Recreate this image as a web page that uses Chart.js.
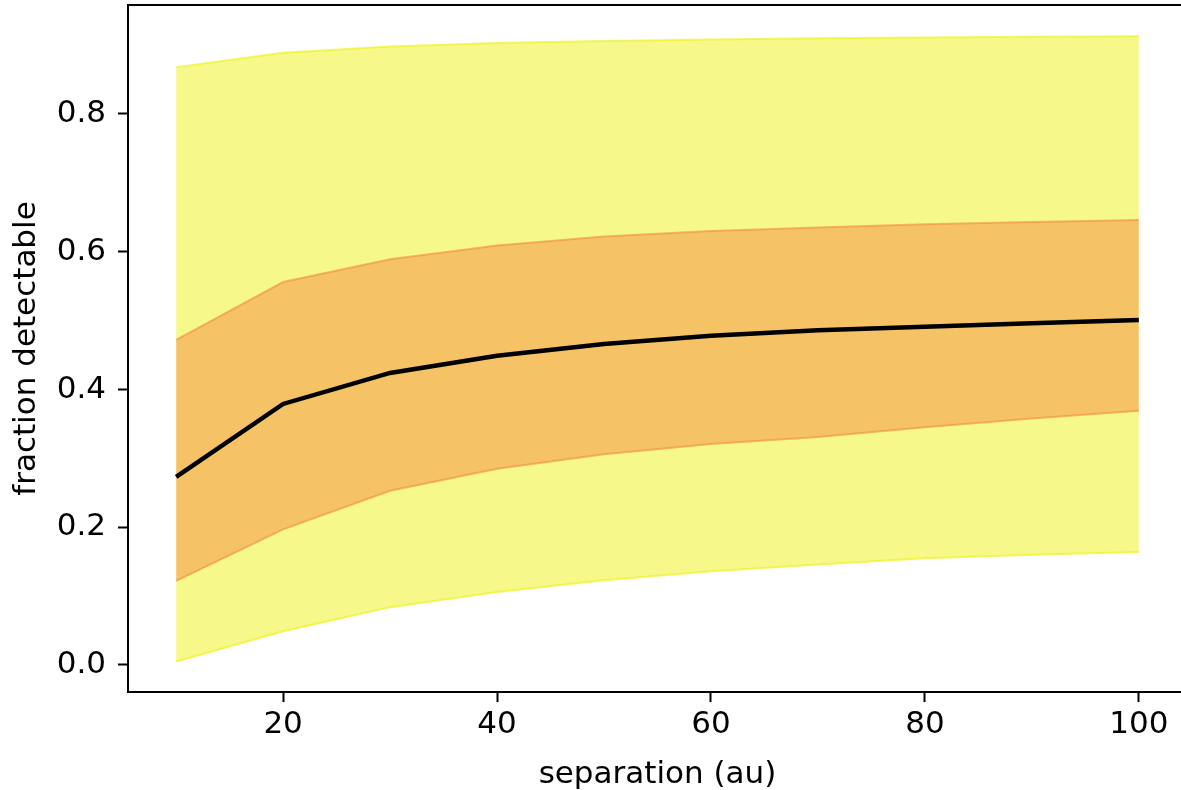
<!DOCTYPE html>
<html>
<head>
<meta charset="utf-8">
<script src="https://cdn.jsdelivr.net/npm/chart.js@4/dist/chart.umd.min.js"></script>
<style>
    html, body { margin: 0; padding: 0; background: #fff; overflow: hidden; }
    #wrap { width: 1192px; height: 790px; }
</style>
</head>
<body>
<div id="wrap"><canvas id="chart" width="1192" height="790"></canvas></div>
<script>
// separation (au)
const separation = [10, 20, 30, 40, 50, 60, 70, 80, 90, 100];
// fraction detectable
const median     = [0.273, 0.379, 0.424, 0.449, 0.466, 0.478, 0.486, 0.491, 0.496, 0.501];
const innerLow   = [0.122, 0.197, 0.253, 0.285, 0.306, 0.321, 0.331, 0.345, 0.358, 0.369];
const innerHigh  = [0.472, 0.556, 0.589, 0.609, 0.622, 0.630, 0.635, 0.640, 0.643, 0.646];
const outerLow   = [0.005, 0.049, 0.084, 0.106, 0.123, 0.136, 0.146, 0.155, 0.160, 0.164];
const outerHigh  = [0.868, 0.889, 0.898, 0.903, 0.906, 0.908, 0.910, 0.911, 0.912, 0.913];

const xTicks = [20, 40, 60, 80, 100];
const yTicks = [0.0, 0.2, 0.4, 0.6, 0.8];

const yellow = 'rgba(238, 242, 22, 0.5)';
const yellowEdge = 'rgba(238, 242, 22, 0.65)';
const orange = 'rgba(246, 144, 66, 0.5)';
const orangeEdge = 'rgba(242, 140, 60, 0.6)';

function pts(arr) {
    return separation.map((x, i) => ({ x: x, y: arr[i] }));
}

// box around the plot area (top / right spines)
const frame = {
    id: 'frame',
    afterDraw(chart) {
        const a = chart.chartArea;
        const ctx = chart.ctx;
        ctx.save();
        ctx.strokeStyle = '#000';
        ctx.lineWidth = 2;
        ctx.strokeRect(a.left, a.top, a.right - a.left, a.bottom - a.top);
        ctx.restore();
    }
};

Chart.defaults.font.family = '"DejaVu Sans", sans-serif';
Chart.defaults.font.size = 31;
Chart.defaults.color = '#000';

new Chart(document.getElementById('chart'), {
    type: 'line',
    data: {
        datasets: [
            { data: pts(median), borderColor: '#000', borderWidth: 4.5, fill: false, order: 0 },
            { data: pts(innerLow), borderColor: orangeEdge, borderWidth: 2, fill: false, order: 1 },
            { data: pts(innerHigh), borderColor: orangeEdge, backgroundColor: orange, borderWidth: 2, fill: '-1', order: 1 },
            { data: pts(outerLow), borderColor: yellowEdge, borderWidth: 2, fill: false, order: 2 },
            { data: pts(outerHigh), borderColor: yellowEdge, backgroundColor: yellow, borderWidth: 2, fill: '-1', order: 2 }
        ]
    },
    options: {
        responsive: false,
        animation: false,
        devicePixelRatio: 1,
        elements: { point: { radius: 0 }, line: { tension: 0 } },
        layout: { padding: { left: 0, top: 5, right: 5, bottom: 0 } },
        plugins: { legend: { display: false }, tooltip: { enabled: false } },
        scales: {
            x: {
                type: 'linear',
                min: 5.5,
                max: 104.5,
                afterBuildTicks: s => { s.ticks = xTicks.map(v => ({ value: v })); },
                afterFit: s => { s.height = 98; s.paddingLeft = 0; s.paddingRight = 0; },
                ticks: { padding: 4, callback: v => String(v), maxRotation: 0 },
                grid: { drawOnChartArea: false, drawTicks: true, tickLength: 10, tickWidth: 2, tickColor: '#000' },
                border: { color: '#000', width: 2 },
                title: { display: true, text: 'separation (au)', padding: { top: 0, bottom: -4 } }
            },
            y: {
                min: -0.0392,
                max: 0.9582,
                afterBuildTicks: s => { s.ticks = yTicks.map(v => ({ value: v })); },
                afterFit: s => { s.width = 128; s.paddingTop = 0; s.paddingBottom = 0; },
                ticks: { padding: 12, callback: v => v.toFixed(1) },
                grid: { drawOnChartArea: false, drawTicks: true, tickLength: 10, tickWidth: 2, tickColor: '#000' },
                border: { color: '#000', width: 2 },
                title: { display: true, text: 'fraction detectable', padding: { top: 8, bottom: 0 } }
            }
        }
    },
    plugins: [frame]
});
</script>
</body>
</html>
